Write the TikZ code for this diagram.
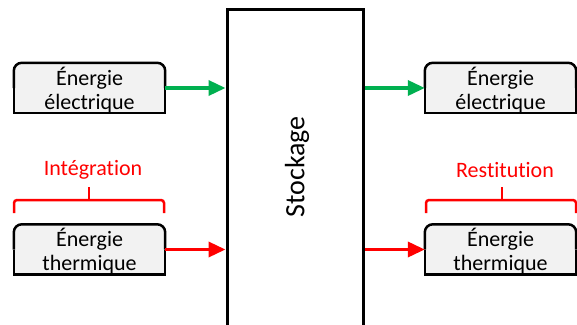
\documentclass[tikz,border=0pt]{standalone}
\usepackage{fontspec}
\setmainfont{Carlito}[Ligatures=NoCommon]
\usetikzlibrary{arrows.meta}
\definecolor{grn}{HTML}{00B050}
\definecolor{rd}{HTML}{FF0000}
\definecolor{boxgray}{HTML}{F2F2F2}
\newcommand\ebox[3]{%
  \node[frame] (#1) at (#2) {};
  \fill[boxgray,rounded corners=8pt] (#1.south west) rectangle (#1.north east);
  \fill[boxgray] (#1.west) rectangle (#1.south east);
  \begin{scope}
    \clip (#1.south west) rectangle (#1.north east);
    \node[etext,anchor=base,yshift=-21pt] (#1-t) at (#1.center) {#3};
  \end{scope}
  \draw[boxline,rounded corners=8pt] (#1.west) -- (#1.north west) -- (#1.north east) -- (#1.east);
  \draw[boxline] (#1.west) -- (#1.south west) -- (#1.south east) -- (#1.east);
}
\begin{document}
\begin{tikzpicture}[x=1pt,y=-1pt,
  frame/.style={minimum width=151pt,minimum height=50pt,inner sep=0pt,draw=none},
  etext/.style={align=center,inner sep=0pt,font=\fontsize{22}{24}\selectfont},
  boxline/.style={draw=black,line width=2.5pt},
  stockbox/.style={draw=black,line width=3pt,minimum width=136pt,minimum height=321pt,inner sep=0pt},
  garrow/.style={draw=grn,line width=3.5pt,-{Triangle[length=17pt,width=15pt]}},
  rarrow/.style={draw=rd,line width=3.5pt,-{Triangle[length=17pt,width=15pt]}},
  brace/.style={draw=rd,line width=2.5pt,rounded corners=3pt},
  label/.style={text=rd,inner sep=0pt,font=\fontsize{22}{26}\selectfont}
]
\useasboundingbox (0,0) rectangle (577,324);
\fill[white] (0,0) rectangle (577,324);

\node[stockbox] (stock) at (295,169.5) {};
\node[rotate=90,inner sep=0pt,font=\fontsize{28}{32}\selectfont] (stocktxt) at (297,167) {Stockage};

\ebox{le}{89.5,88}{Énergie\\électrique}
\ebox{lt}{89.5,249.5}{Énergie\\thermique}
\ebox{re}{500.5,88}{Énergie\\électrique}
\ebox{rt}{500.5,249.5}{Énergie\\thermique}

\draw[garrow] (le.east) -- (le.east -| stock.west);
\draw[rarrow] (lt.east) -- (lt.east -| stock.west);
\draw[garrow] (re.west -| stock.east) -- (re.west);
\draw[rarrow] (rt.west -| stock.east) -- (rt.west);

\coordinate (lb1) at (14,213);
\coordinate (lb2) at (14,200);
\coordinate (lb3) at (164,200);
\coordinate (lb4) at (164,213);
\coordinate (lbm) at (89,200);
\coordinate (lbt) at (89,187);
\draw[brace] (lb1) -- (lb2) -- (lb3) -- (lb4);
\draw[brace] (lbm) -- (lbt);
\node[label] (integ) at (93,170) {Intégration};

\coordinate (rb1) at (426,213);
\coordinate (rb2) at (426,200);
\coordinate (rb3) at (576,200);
\coordinate (rb4) at (576,213);
\coordinate (rbm) at (502,200);
\coordinate (rbt) at (502,187);
\draw[brace] (rb1) -- (rb2) -- (rb3) -- (rb4);
\draw[brace] (rbm) -- (rbt);
\node[label] (resti) at (505,170) {Restitution};
\end{tikzpicture}
\end{document}
